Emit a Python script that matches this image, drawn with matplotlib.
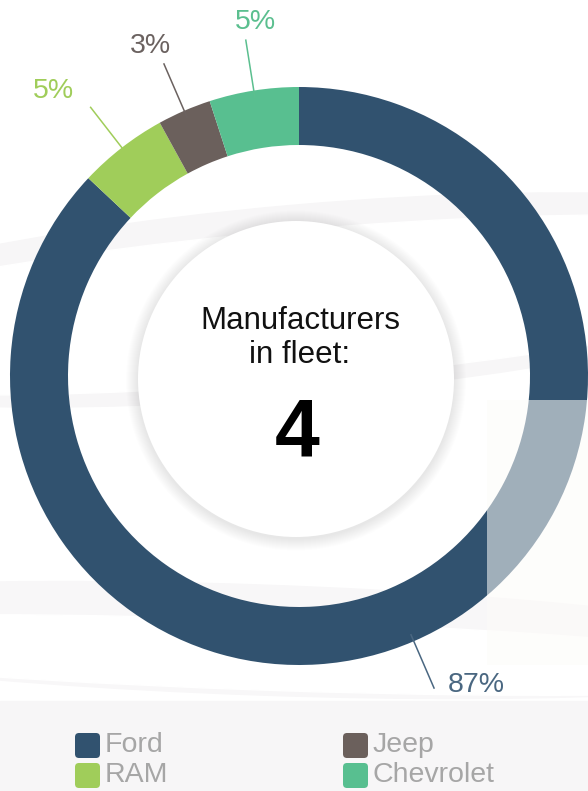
import numpy as np
import matplotlib
matplotlib.use("Agg")
import matplotlib.pyplot as plt
from matplotlib.patches import Circle, Rectangle, FancyBboxPatch, Ellipse

plt.rcParams['font.family'] = ['Liberation Sans', 'DejaVu Sans']

# data
makers = ['Ford', 'RAM', 'Jeep', 'Chevrolet']
shares = [87, 5, 3, 5]
colors = ['#31526f', '#a0cd5a', '#6b605c', '#58bf90']
label_colors = ['#4a6781', '#a0cd5a', '#6b6260', '#5bbf8f']
center_title = 'Manufacturers\nin fleet:'
center_value = str(len(makers))

W, H = 588, 791
fig = plt.figure(figsize=(W / 100, H / 100), dpi=100)
ax = fig.add_axes([0, 0, 1, 1])

cx, cy = 299, 376
r_out, ring = 289, 58

# faint background swooshes
ax.add_patch(Ellipse((300, 300), 1150, 190, angle=-5, color='#f7f6f7', zorder=0))
ax.add_patch(Ellipse((300, 305), 1150, 150, angle=-5, color='white', zorder=0))
ax.add_patch(Ellipse((260, 640), 1150, 110, angle=2, color='#f8f7f8', zorder=0))
ax.add_patch(Ellipse((260, 655), 1150, 70, angle=2, color='white', zorder=0))

# legend band
ax.add_patch(Rectangle((0, 701), W, 90, color='#f7f6f7', zorder=0))

# donut
ax.pie(shares, colors=colors, center=(cx, cy), radius=r_out,
       startangle=-90, counterclock=True, frame=True,
       wedgeprops=dict(width=ring, linewidth=0))
ax.set_xlim(0, W)
ax.set_ylim(H, 0)
ax.set_aspect('equal')
ax.axis('off')

# washed-out overlay on the right side
ax.add_patch(Rectangle((487, 400), 110, 265, color='#fdfcf9', alpha=0.55,
                       linewidth=0, zorder=5))

# inner circle with soft shadow
icx, icy, ir = 296, 379, 158
for i in range(12):
    ax.add_patch(Circle((icx, icy + 1.5), ir + 12 - i, color='#000000',
                        alpha=0.006, linewidth=0, zorder=3))
ax.add_patch(Circle((icx, icy), ir, color='white', linewidth=0, zorder=4))

ax.text(icx + 4, 338, center_title, ha='center', va='center', fontsize=22.5,
        color='#111111', linespacing=1.15, zorder=6)
ax.text(icx + 1, 434, center_value, ha='center', va='center', fontsize=58,
        fontweight='bold', color='#000000', zorder=6)

# percentage labels with leader lines
offsets = [(42, -3), (-37, -16), (-14, -18), (10, -18)]
cum = np.cumsum([0] + shares[:-1])
for i, v in enumerate(shares):
    phi = np.deg2rad((cum[i] + v / 2) / sum(shares) * 360)
    x0, y0 = cx + 282 * np.sin(phi), cy - 282 * np.cos(phi)
    x1, y1 = cx + 340 * np.sin(phi), cy - 340 * np.cos(phi)
    ax.plot([x0, x1], [y0, y1], color=label_colors[i], lw=1.1, zorder=6)
    dx, dy = offsets[i]
    ax.text(x1 + dx, y1 + dy, f'{v}%', ha='center', va='center',
            fontsize=20.5, color=label_colors[i], zorder=6)

# legend
for i, name in enumerate(makers):
    lx = 75 + (i // 2) * 268
    ly = 733 + (i % 2) * 30
    ax.add_patch(FancyBboxPatch((lx + 4, ly + 4), 17, 17,
                                boxstyle='round,pad=4', color=colors[i],
                                linewidth=0, zorder=6))
    ax.text(lx + 30, ly + 12, name, ha='left', va='center', fontsize=20.5,
            color='#a6a6a6', zorder=6)

fig.savefig('out.png', dpi=100, facecolor='white')
